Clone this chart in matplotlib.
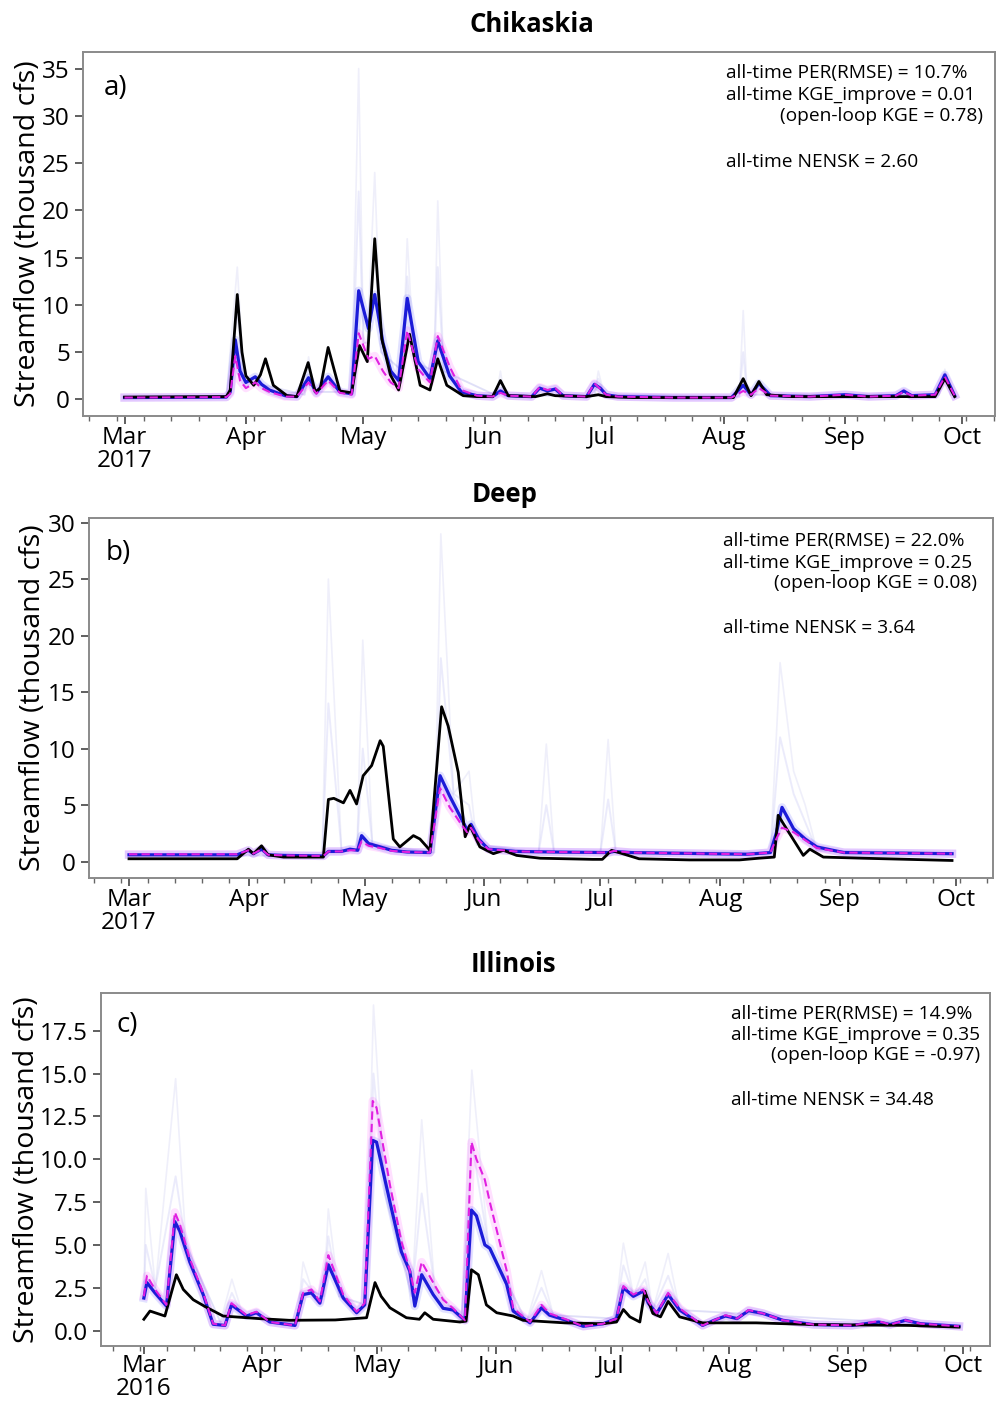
import pandas as pd
import matplotlib
matplotlib.use("Agg")
import matplotlib.pyplot as plt
import matplotlib.dates as mdates

plt.rcParams['font.family'] = ['Open Sans', 'DejaVu Sans']

# === Data (day offsets from 1 March, flows in thousand cfs) ===
# --- a) Chikaskia, 2017 ---
obs_a_days = [0, 26, 27, 28.8, 30, 31, 33, 34.7, 36, 38, 41.5, 44, 46.9, 48.7, 50, 52, 55, 58, 60, 62,
              63.9, 65.7, 67.9, 70, 72.8, 75.5, 78, 80, 82.3, 86.5, 90, 94, 96, 98, 105, 108, 110,
              118, 121, 123, 130, 150, 155.5, 158, 160, 162, 164, 170, 184, 199, 207, 209.5, 212]
obs_a_vals = [0.25, 0.3, 1.0, 11.1, 5.0, 2.5, 1.5, 2.6, 4.3, 1.5, 0.4, 0.3, 3.9, 0.8, 1.2, 5.5, 0.9, 0.7, 5.7, 4.0,
              17.0, 6.4, 2.6, 1.0, 6.9, 1.5, 1.0, 4.3, 1.5, 0.4, 0.3, 0.3, 2.0, 0.4, 0.3, 0.6, 0.4,
              0.3, 0.5, 0.3, 0.2, 0.2, 0.2, 2.2, 0.4, 1.9, 0.5, 0.3, 0.3, 0.3, 0.3, 2.2, 0.3]
sim_a_days = [0, 26, 27, 28.3, 29.5, 31, 33.4, 35, 37, 41, 44, 47, 49, 52, 55, 58, 59.8, 62.3, 63.9, 66,
              68, 70, 72.2, 75, 78, 80, 83, 86, 90, 94, 96, 98, 104, 106, 108, 110, 112, 118, 120,
              121.5, 123, 126, 140, 155, 158, 160, 162, 165, 175, 184, 190, 197, 199, 201, 207, 209.5, 212]
da_a_vals = [0.2, 0.25, 0.8, 6.3, 3.0, 1.8, 2.4, 1.6, 1.0, 0.4, 0.3, 2.3, 0.7, 2.4, 0.8, 0.6, 11.5, 7.5, 11.1, 6.0,
             3.0, 2.0, 10.7, 4.0, 2.2, 6.2, 2.5, 0.8, 0.4, 0.3, 0.9, 0.4, 0.3, 1.2, 0.9, 1.1, 0.4, 0.3, 1.6,
             1.2, 0.5, 0.3, 0.2, 0.2, 1.5, 0.5, 1.7, 0.4, 0.3, 0.5, 0.3, 0.4, 0.9, 0.4, 0.5, 2.6, 0.4]
ol_a_vals = [0.2, 0.25, 0.6, 4.6, 2.0, 1.2, 1.8, 1.2, 0.8, 0.3, 0.3, 1.8, 0.6, 2.0, 0.7, 0.5, 7.0, 4.3, 4.6, 3.0,
             1.8, 1.2, 7.3, 3.2, 1.8, 6.7, 3.5, 1.0, 0.4, 0.3, 0.7, 0.4, 0.3, 1.3, 1.0, 1.2, 0.4, 0.3, 1.7,
             1.1, 0.5, 0.3, 0.2, 0.2, 0.9, 0.5, 1.2, 0.4, 0.3, 0.5, 0.3, 0.4, 0.8, 0.4, 0.5, 2.4, 0.4]
ens_a_days = [0, 26, 28.8, 30.5, 46, 47, 48.5, 58, 59.8, 61, 62, 63.9, 65.5, 71, 72.2, 74, 79, 80, 81.5,
              95, 96, 97, 120, 121, 122.5, 157, 158, 159, 208, 209.5, 211]
ens_a_hi = [0.2, 0.3, 14.0, 2.0, 0.5, 4.5, 0.8, 0.8, 35.0, 6.0, 6.0, 24.0, 5.0, 3.0, 17.0, 4.0, 3.0, 21.0, 3.0,
            0.4, 3.0, 0.4, 0.4, 3.0, 0.5, 0.3, 9.4, 0.5, 0.5, 3.2, 0.5]
ens_a_mid = [0.2, 0.3, 9.0, 2.0, 0.5, 3.0, 0.8, 0.8, 22.0, 6.0, 6.0, 16.0, 5.0, 3.0, 13.0, 4.0, 3.0, 14.0, 3.0,
             0.4, 2.0, 0.4, 0.4, 2.2, 0.5, 0.3, 5.0, 0.5, 0.5, 2.8, 0.5]

# --- b) Deep, 2017 ---
obs_b_days = [0, 28, 30.9, 32.2, 34.3, 36, 40, 50.3, 51.6, 53, 55.5, 57.2, 58.9, 60.6, 62.8, 65, 65.8, 68.4,
              70.1, 73.6, 75.3, 77.9, 80.9, 82.6, 85.2, 87, 88.2, 90.8, 94.3, 96.9, 100.3, 106.4, 120,
              122.5, 124.9, 132, 145, 158, 163, 167, 168, 170, 174.5, 176.2, 179.7, 190, 213]
obs_b_vals = [0.25, 0.25, 1.1, 0.7, 1.4, 0.6, 0.4, 0.4, 5.5, 5.6, 5.2, 6.3, 5.1, 7.6, 8.5, 10.7, 10.2, 2.0,
              1.3, 2.3, 2.0, 1.0, 13.7, 12.0, 7.9, 2.2, 3.2, 1.3, 0.7, 1.0, 0.55, 0.3, 0.2,
              0.2, 1.0, 0.25, 0.15, 0.15, 0.3, 0.4, 4.1, 3.0, 0.55, 1.1, 0.4, 0.3, 0.1]
sim_b_days = [0, 28, 30.9, 32.2, 34.3, 36, 40, 50.3, 51.6, 55, 57.2, 59.2, 60.2, 62, 65, 68, 72, 77.9, 80.5,
              83, 86, 87.5, 88.5, 90.5, 93, 97, 100, 110, 124, 125.5, 130, 150, 160, 166, 167.5, 169, 172,
              175, 178, 185, 200, 213]
da_b_vals = [0.6, 0.6, 1.0, 0.7, 1.1, 0.6, 0.55, 0.5, 0.9, 0.9, 1.1, 1.0, 2.3, 1.6, 1.3, 1.0, 0.85, 0.8, 7.6,
             5.8, 3.8, 2.8, 3.3, 2.0, 1.1, 1.0, 0.9, 0.85, 0.8, 0.9, 0.8, 0.7, 0.65, 0.8, 2.5, 4.8, 2.9,
             2.0, 1.3, 0.8, 0.75, 0.7]
ol_b_vals = [0.65, 0.65, 1.0, 0.7, 1.1, 0.6, 0.55, 0.5, 0.9, 0.9, 1.0, 1.0, 1.8, 1.4, 1.2, 0.95, 0.85, 0.8, 6.5,
             4.8, 3.3, 2.6, 3.0, 1.9, 1.1, 1.0, 0.9, 0.85, 0.8, 0.95, 0.8, 0.7, 0.65, 0.8, 2.0, 3.0, 2.6,
             1.9, 1.2, 0.8, 0.75, 0.7]
ens_b_days = [0, 50, 51.6, 55, 59, 60.5, 63, 79, 80.7, 84, 88, 90, 106, 108, 110, 122, 124, 126, 166, 168.5,
              172, 175, 178, 213]
ens_b_hi = [0.6, 0.5, 25.0, 1.0, 1.0, 19.6, 1.5, 0.8, 29.0, 6.0, 8.0, 1.5, 0.8, 10.4, 0.8, 0.8, 10.8, 0.8, 0.8, 17.6,
            8.0, 5.0, 1.0, 0.7]
ens_b_mid = [0.6, 0.5, 14.0, 1.0, 1.0, 10.0, 1.5, 0.8, 18.0, 6.0, 5.0, 1.5, 0.8, 5.0, 0.8, 0.8, 5.5, 0.8, 0.8, 11.0,
             6.0, 3.5, 1.0, 0.7]

# --- c) Illinois, 2016 ---
obs_c_days = [0, 1.6, 5.5, 8.5, 10.3, 12.9, 16, 20.7, 30, 38, 50, 58.2, 60.4, 62, 64.3, 68.6, 72, 73.4, 75.6,
              82.6, 84.2, 85.6, 87.4, 89.5, 92.2, 96.5, 99.1, 110, 120, 123.5, 125.3, 127, 129.6, 130.9,
              133, 135, 137, 140, 146, 160, 175, 200, 213]
obs_c_vals = [0.66, 1.14, 0.85, 3.26, 2.4, 1.8, 1.4, 0.85, 0.7, 0.6, 0.62, 0.75, 2.8, 2.0, 1.33, 0.75, 0.66, 1.04, 0.66,
              0.5, 0.55, 3.55, 3.26, 1.5, 1.04, 0.85, 0.6, 0.45, 0.4, 0.5, 1.23, 0.8, 0.5, 2.3,
              1.0, 0.8, 1.7, 0.8, 0.45, 0.45, 0.35, 0.3, 0.2]
sim_c_days = [0, 0.8, 2.9, 5.9, 8.1, 9.4, 12, 15.5, 18.1, 21.2, 22.9, 26.8, 29.4, 32.9, 39.5, 41.6, 43.8, 46,
              48.2, 52.1, 55.6, 57.7, 59.8, 60.8, 64.3, 67.3, 69.5, 70.8, 72.6, 75.6, 78.2, 80.8, 83.9, 85.6,
              86.9, 89.1, 90.4, 94.8, 96.5, 100.9, 103.9, 106, 110.4, 114.8, 120, 123.5, 125.3, 127.9, 130.5,
              131.8, 134, 137, 140, 146, 149, 152, 155, 158, 161.8, 167, 175, 185, 192, 195, 199, 203, 213]
da_c_vals = [1.9, 2.8, 2.2, 1.43, 6.36, 5.8, 4.0, 2.1, 0.37, 0.3, 1.5, 0.85, 1.04, 0.5, 0.3, 2.1, 2.2, 1.6,
             3.84, 1.9, 1.04, 1.5, 11.1, 11.0, 7.5, 4.6, 3.46, 1.43, 3.26, 2.1, 1.3, 1.2, 0.6, 7.03,
             6.7, 5.0, 4.8, 2.7, 1.14, 0.45, 1.33, 0.9, 0.6, 0.25, 0.4, 0.7, 2.5, 2.0, 2.3,
             1.6, 1.0, 2.1, 1.2, 0.3, 0.6, 0.85, 0.7, 1.16, 1.0, 0.6, 0.35, 0.3, 0.5, 0.35, 0.6, 0.4, 0.25]
ol_c_vals = [2.0, 3.2, 2.4, 1.5, 6.9, 6.2, 4.2, 2.2, 0.4, 0.3, 1.6, 0.9, 1.1, 0.5, 0.3, 2.2, 2.4, 1.7,
             4.4, 2.1, 1.1, 1.6, 13.4, 13.0, 8.5, 5.2, 3.5, 2.2, 4.0, 2.8, 1.8, 1.3, 0.6, 11.0,
             10.0, 8.8, 7.5, 3.5, 1.3, 0.5, 1.5, 1.0, 0.65, 0.25, 0.4, 0.7, 2.6, 2.1, 2.4,
             1.7, 1.0, 2.2, 1.3, 0.3, 0.6, 0.9, 0.7, 1.2, 1.0, 0.6, 0.35, 0.3, 0.55, 0.35, 0.6, 0.4, 0.25]
ens_c_days = [0, 0.5, 3, 8.3, 11, 20, 23, 26, 40, 41.6, 44, 47, 48.2, 51, 58, 60, 63, 70, 72.6, 76, 83,
              85.7, 90, 100, 103.9, 107, 123, 125.3, 128, 131, 133, 137, 140, 213]
ens_c_hi = [2.0, 8.3, 2.5, 14.7, 5.0, 0.5, 3.0, 0.8, 0.4, 4.0, 2.3, 2.0, 7.1, 2.0, 1.5, 19.0, 8.0, 2.0, 12.3, 2.5, 0.6,
            15.2, 5.0, 0.5, 3.5, 0.9, 0.7, 5.1, 2.0, 4.0, 1.2, 4.5, 1.2, 0.25]
ens_c_mid = [2.0, 5.0, 2.5, 9.0, 5.0, 0.5, 2.2, 0.8, 0.4, 3.0, 2.3, 2.0, 5.5, 2.0, 1.5, 15.0, 8.0, 2.0, 8.0, 2.5, 0.6,
             11.0, 5.0, 0.5, 2.5, 0.9, 0.7, 3.8, 2.0, 3.0, 1.2, 3.2, 1.2, 0.25]

month_labels_2017 = ['Mar\n2017', 'Apr', 'May', 'Jun', 'Jul', 'Aug', 'Sep', 'Oct']
month_labels_2016 = ['Mar\n2016', 'Apr', 'May', 'Jun', 'Jul', 'Aug', 'Sep', 'Oct']

stats_a = ['all-time PER(RMSE) = 10.7%', 'all-time KGE_improve = 0.01', '(open-loop KGE = 0.78)', 'all-time NENSK = 2.60']
stats_b = ['all-time PER(RMSE) = 22.0%', 'all-time KGE_improve = 0.25', '(open-loop KGE = 0.08)', 'all-time NENSK = 3.64']
stats_c = ['all-time PER(RMSE) = 14.9%', 'all-time KGE_improve = 0.35', '(open-loop KGE = -0.97)', 'all-time NENSK = 34.48']

W, H = 998, 1401


def to_dates(start, days):
    return pd.Timestamp(start) + pd.to_timedelta(days, unit='D')


def fx(x):
    return x / W


def fy(y):
    return 1 - y / H


# === One panel ===
def draw_panel(fig, box, start, year_labels, xlim_days, ylim, yticks,
               obs, sim_days, da_vals, ol_vals, ens_days, ens_hi, ens_mid, label_x, xpad=1):
    left, top, right, bottom = box
    ax = fig.add_axes([fx(left), fy(bottom), (right - left) / W, (bottom - top) / H])

    ens_x = to_dates(start, ens_days)
    ax.plot(ens_x, ens_hi, color='#b8b8ec', lw=1.2, alpha=0.22, zorder=1)
    ax.plot(ens_x, ens_mid, color='#a8a8f0', lw=1.4, alpha=0.22, zorder=1)

    sim_x = to_dates(start, sim_days)
    ax.plot(sim_x, ol_vals, color='magenta', lw=6, alpha=0.12, zorder=2)
    ax.plot(sim_x, da_vals, color='#4040ff', lw=6, alpha=0.15, zorder=2)
    ax.plot(sim_x, da_vals, color='#1c1cd8', lw=2.3, zorder=3)
    ax.plot(to_dates(start, obs[0]), obs[1], color='black', lw=2, zorder=4)
    ax.plot(sim_x, ol_vals, color='#e020e0', lw=1.5, ls=(0, (4, 2)), zorder=5)

    ax.set_xlim(to_dates(start, xlim_days[0]), to_dates(start, xlim_days[1]))
    ax.set_ylim(*ylim)
    ax.set_yticks(yticks)

    month_starts = pd.date_range(pd.Timestamp(start), periods=len(year_labels), freq='MS')
    ax.set_xticks(month_starts)
    ax.set_xticklabels(year_labels, linespacing=0.95)
    ax.xaxis.set_minor_locator(mdates.WeekdayLocator(byweekday=mdates.MO))

    ax.tick_params(axis='both', which='major', labelsize=17.5, length=6, width=1.2, color='#444444')
    ax.tick_params(axis='x', which='major', pad=xpad)
    ax.tick_params(axis='x', which='minor', length=3.5, width=1, color='#666666')
    for s in ax.spines.values():
        s.set_color('#8a8a8a')
        s.set_linewidth(1.4)
    ax.set_ylabel('Streamflow (thousand cfs)', fontsize=20.5)
    ax.yaxis.set_label_coords((label_x - left) / (right - left), 0.5)
    return ax


fig = plt.figure(figsize=(W / 100, H / 100), dpi=100)

ax_a = draw_panel(fig, (83, 52, 995, 416), '2017-03-01', month_labels_2017, (-10.6, 222.3),
                  (-1.75, 36.75), [0, 5, 10, 15, 20, 25, 30, 35],
                  (obs_a_days, obs_a_vals), sim_a_days, da_a_vals, ol_a_vals,
                  ens_a_days, ens_a_hi, ens_a_mid, 42)
ax_b = draw_panel(fig, (89, 518, 993, 878), '2017-03-01', month_labels_2017, (-10.35, 223.6),
                  (-1.45, 30.4), [0, 5, 10, 15, 20, 25, 30],
                  (obs_b_days, obs_b_vals), sim_b_days, da_b_vals, ol_b_vals,
                  ens_b_days, ens_b_hi, ens_b_mid, 47)
ax_c = draw_panel(fig, (101, 993, 990, 1346), '2016-03-01', month_labels_2016, (-11.2, 221.1),
                  (-0.9, 19.7), [0, 2.5, 5, 7.5, 10, 12.5, 15, 17.5],
                  (obs_c_days, obs_c_vals), sim_c_days, da_c_vals, ol_c_vals,
                  ens_c_days, ens_c_hi, ens_c_mid, 41, xpad=0)
ax_c.set_yticklabels(['0.0', '2.5', '5.0', '7.5', '10.0', '12.5', '15.0', '17.5'])

# === Titles, panel letters, stats ===
fig.text(fx(532), fy(25), 'Chikaskia', ha='center', va='center', fontsize=18.5, fontweight='bold')
fig.text(fx(505), fy(495), 'Deep', ha='center', va='center', fontsize=18.5, fontweight='bold')
fig.text(fx(513), fy(965), 'Illinois', ha='center', va='center', fontsize=18.5, fontweight='bold')

fig.text(fx(104), fy(88), 'a)', ha='left', va='center', fontsize=20)
fig.text(fx(106), fy(553), 'b)', ha='left', va='center', fontsize=20)
fig.text(fx(117), fy(1025), 'c)', ha='left', va='center', fontsize=20)

for stats, x0, x1, ys in [(stats_a, 726, 983, (73, 95, 116, 162)),
                          (stats_b, 723, 977, (541, 563, 583, 628)),
                          (stats_c, 731, 980, (1014, 1035, 1055, 1100))]:
    fig.text(fx(x0), fy(ys[0]), stats[0], ha='left', va='center', fontsize=13.8)
    fig.text(fx(x0), fy(ys[1]), stats[1], ha='left', va='center', fontsize=13.8)
    fig.text(fx(x1), fy(ys[2]), stats[2], ha='right', va='center', fontsize=13.8)
    fig.text(fx(x0), fy(ys[3]), stats[3], ha='left', va='center', fontsize=13.8)

fig.savefig('out.png', dpi=100)
